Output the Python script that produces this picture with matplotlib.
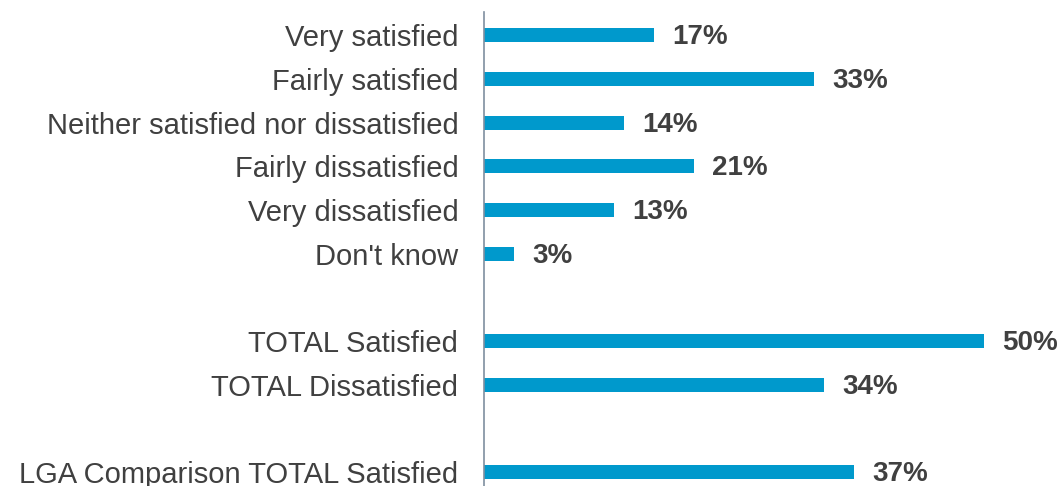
import matplotlib.pyplot as plt

plt.rcParams['font.family'] = ['Liberation Sans', 'DejaVu Sans']

labels = ['Very satisfied', 'Fairly satisfied', 'Neither satisfied nor dissatisfied',
          'Fairly dissatisfied', 'Very dissatisfied', "Don't know",
          'TOTAL Satisfied', 'TOTAL Dissatisfied',
          'LGA Comparison TOTAL Satisfied']
values = [17, 33, 14, 21, 13, 3, 50, 34, 37]
rows = [0, 1, 2, 3, 4, 5, 7, 8, 10]

bar_color = '#0099CC'
text_color = '#404040'

fig = plt.figure(figsize=(10.6, 4.86), dpi=100)
ax = fig.add_axes([484 / 1060, 0.0, 1 - 484 / 1060, (486 - 12) / 486])

ax.barh(rows, values, height=0.32, color=bar_color, edgecolor='none')
for r, v in zip(rows, values):
    ax.annotate('{}%'.format(v), (v, r), xytext=(13, -1.5), textcoords='offset points',
                ha='left', va='center', fontsize=20, fontweight='bold', color=text_color)

# 10 px per percent point
ax.set_xlim(0, 57.6)
ax.set_ylim(10.32, -0.53)
ax.set_yticks(rows)
ax.set_yticklabels(labels, fontsize=21, color=text_color)
ax.tick_params(axis='y', length=0, pad=18.5)
ax.set_xticks([])
for side in ['top', 'right', 'bottom']:
    ax.spines[side].set_visible(False)
ax.spines['left'].set_color('#7F8FA0')
ax.spines['left'].set_linewidth(1.2)

fig.savefig('out.png', dpi=100)
